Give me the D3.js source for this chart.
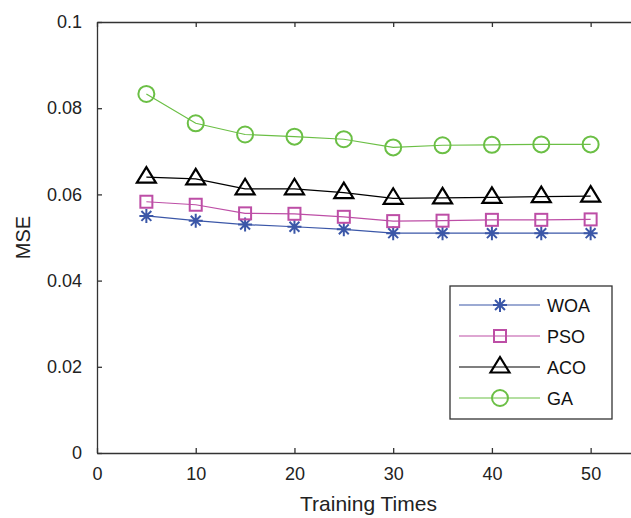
<!DOCTYPE html>
<html>
<head>
<meta charset="utf-8">
<script src="https://cdn.jsdelivr.net/npm/d3@7"></script>
<style>
body { margin: 0; background: #fff; }
svg { display: block; font-family: "Liberation Sans", Arial, sans-serif; }
</style>
</head>
<body>
<svg id="chart" width="631" height="518"></svg>
<script>
// data
var times = [5, 10, 15, 20, 25, 30, 35, 40, 45, 50];
var woa = [0.0550, 0.0539, 0.0530, 0.0525, 0.0519, 0.0510, 0.0510, 0.0510, 0.0510, 0.0510];
var pso = [0.0583, 0.0576, 0.0556, 0.0555, 0.0548, 0.0538, 0.0539, 0.0541, 0.0541, 0.0542];
var aco = [0.0640, 0.0636, 0.0613, 0.0613, 0.0604, 0.0591, 0.0592, 0.0593, 0.0595, 0.0596];
var ga  = [0.0833, 0.0765, 0.0739, 0.0734, 0.0728, 0.0709, 0.0714, 0.0715, 0.0716, 0.0716];
var xTicks = [0, 10, 20, 30, 40, 50];
var yTicks = [0, 0.02, 0.04, 0.06, 0.08, 0.1];

var series = [
    { name: "WOA", values: woa, color: "#3b57a8", marker: "star" },
    { name: "PSO", values: pso, color: "#bd4ea6", marker: "square" },
    { name: "ACO", values: aco, color: "#000000", marker: "triangle" },
    { name: "GA",  values: ga,  color: "#6bbf45", marker: "circle" }
];

var svg = d3.select("#chart");
var mLeft = 97, mTop = 22, mRight = 640, mBottom = 453;

var x = d3.scaleLinear().domain([0, 55]).range([mLeft, mRight]);
var y = d3.scaleLinear().domain([0, 0.1]).range([mBottom, mTop]);

var axisColor = "#333";

// bottom axis
svg.append("g")
    .attr("transform", "translate(0," + mBottom + ")")
    .call(d3.axisBottom(x).tickValues(xTicks).tickSizeInner(-5).tickSizeOuter(0).tickPadding(14).tickFormat(d3.format("d")))
    .call(g => g.select(".domain").attr("stroke", axisColor).attr("stroke-width", 1.3))
    .call(g => g.selectAll(".tick line").attr("stroke", axisColor).attr("stroke-width", 1.3))
    .call(g => g.selectAll("text").attr("font-size", 18).attr("fill", "#222").attr("font-family", "Liberation Sans, Arial, sans-serif"));

// top axis (box)
svg.append("g")
    .attr("transform", "translate(0," + mTop + ")")
    .call(d3.axisTop(x).tickValues(xTicks).tickSizeInner(-5).tickSizeOuter(0).tickFormat(""))
    .call(g => g.select(".domain").attr("stroke", axisColor).attr("stroke-width", 1.3))
    .call(g => g.selectAll(".tick line").attr("stroke", axisColor).attr("stroke-width", 1.3));

// left axis
svg.append("g")
    .attr("transform", "translate(" + mLeft + ",0)")
    .call(d3.axisLeft(y).tickValues(yTicks).tickSizeInner(-5).tickSizeOuter(0).tickPadding(15).tickFormat(d3.format("~g")))
    .call(g => g.select(".domain").attr("stroke", axisColor).attr("stroke-width", 1.3))
    .call(g => g.selectAll(".tick line").attr("stroke", axisColor).attr("stroke-width", 1.3))
    .call(g => g.selectAll("text").attr("font-size", 18).attr("fill", "#222").attr("font-family", "Liberation Sans, Arial, sans-serif"));

// axis titles
svg.append("text")
    .attr("x", (mLeft + mRight) / 2).attr("y", 511)
    .attr("text-anchor", "middle").attr("font-size", 21).attr("fill", "#222")
    .text("Training Times");

svg.append("text")
    .attr("transform", "translate(30," + ((mTop + mBottom) / 2) + ") rotate(-90)")
    .attr("text-anchor", "middle").attr("font-size", 20).attr("fill", "#222")
    .text("MSE");

function drawMarker(g, type, cx, cy, color) {
    if (type === "circle") {
        g.append("circle").attr("cx", cx).attr("cy", cy).attr("r", 8)
            .attr("fill", "none").attr("stroke", color).attr("stroke-width", 2);
    } else if (type === "square") {
        g.append("rect").attr("x", cx - 6).attr("y", cy - 6).attr("width", 12).attr("height", 12)
            .attr("fill", "none").attr("stroke", color).attr("stroke-width", 2);
    } else if (type === "triangle") {
        var p = [[cx, cy - 10], [cx + 9.5, cy + 5.5], [cx - 9.5, cy + 5.5]];
        g.append("path").attr("d", "M" + p.join("L") + "Z")
            .attr("fill", "none").attr("stroke", color).attr("stroke-width", 2.2);
    } else if (type === "star") {
        var r = 7, d = "";
        [0, 45, 90, 135].forEach(function (a) {
            var t = a * Math.PI / 180;
            d += "M" + (cx - r * Math.cos(t)) + "," + (cy - r * Math.sin(t)) +
                 "L" + (cx + r * Math.cos(t)) + "," + (cy + r * Math.sin(t));
        });
        g.append("path").attr("d", d).attr("stroke", color).attr("stroke-width", 2);
    }
}

var line = d3.line()
    .x(function (d) { return x(d[0]); })
    .y(function (d) { return y(d[1]); });

series.forEach(function (s) {
    var pts = times.map(function (t, i) { return [t, s.values[i]]; });
    var g = svg.append("g");
    g.append("path").datum(pts).attr("d", line)
        .attr("fill", "none").attr("stroke", s.color).attr("stroke-width", 1.2);
    pts.forEach(function (p) { drawMarker(g, s.marker, x(p[0]), y(p[1]), s.color); });
});

// legend
var lg = svg.append("g");
lg.append("rect").attr("x", 450).attr("y", 286).attr("width", 162).attr("height", 133)
    .attr("fill", "#fff").attr("stroke", axisColor).attr("stroke-width", 1.3);
series.forEach(function (s, i) {
    var ly = 305 + i * 31;
    lg.append("line").attr("x1", 459).attr("x2", 540).attr("y1", ly).attr("y2", ly)
        .attr("stroke", s.color).attr("stroke-width", 1.2);
    drawMarker(lg, s.marker, 500, ly, s.color);
    lg.append("text").attr("x", 547).attr("y", ly + 6.5)
        .attr("font-size", 18).attr("fill", "#111").text(s.name);
});
</script>
</body>
</html>
